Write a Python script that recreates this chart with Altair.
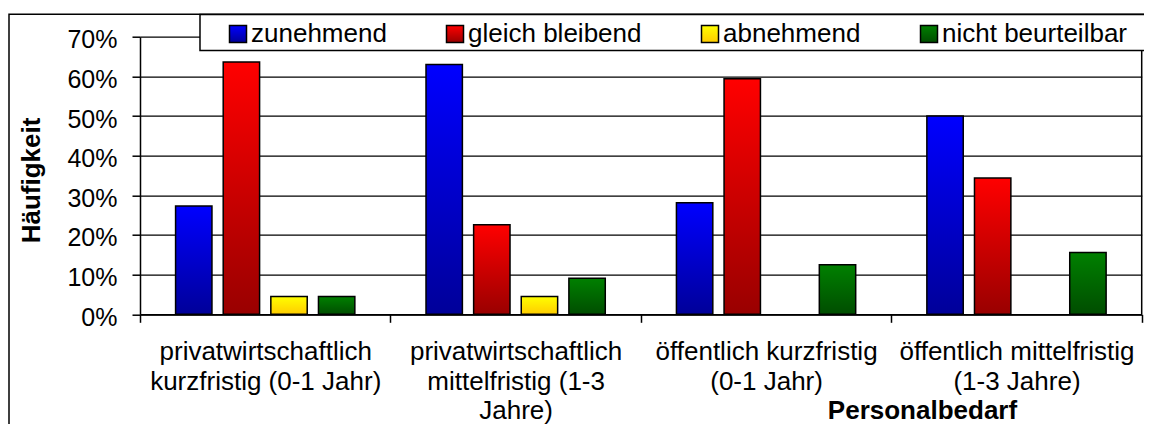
import json
import altair as alt
import pandas as pd

# ---- data ----
category_lines = [
    ["privatwirtschaftlich", "kurzfristig (0-1 Jahr)"],
    ["privatwirtschaftlich", "mittelfristig (1-3", "Jahre)"],
    ["öffentlich kurzfristig", "(0-1 Jahr)"],
    ["öffentlich mittelfristig", "(1-3 Jahre)"],
]
categories = [" ".join(l) for l in category_lines]
series = ["zunehmend", "gleich bleibend", "abnehmend", "nicht beurteilbar"]
zunehmend = [0.273, 0.630, 0.281, 0.500]
gleich_bleibend = [0.636, 0.226, 0.594, 0.344]
abnehmend = [0.045, 0.045, 0.0, 0.0]
nicht_beurteilbar = [0.045, 0.091, 0.125, 0.156]
y_ticks = [0, 0.1, 0.2, 0.3, 0.4, 0.5, 0.6, 0.7]

# gradient colours (top, bottom) per series
grad_top = ["#0000ff", "#ff0000", "#ffff00", "#008000"]
grad_bottom = ["#000099", "#990000", "#ffcc00", "#004d00"]

values = [zunehmend, gleich_bleibend, abnehmend, nicht_beurteilbar]
rows = []
for s, vals in zip(series, values):
    for c, v in zip(categories, vals):
        if v > 0:
            rows.append({"Kategorie": c, "Serie": s, "Wert": v})
df = pd.DataFrame(rows)


def grad(top, bottom):
    return alt.ExprRef(
        expr=(
            "{gradient: 'linear', x1: 0, y1: 0, x2: 0, y2: 1, "
            f"stops: [{{offset: 0, color: '{top}'}}, {{offset: 1, color: '{bottom}'}}]}}"
        )
    )


FONT = "Liberation Sans"
W, H = 1001.7, 277.6

label_map = {c: l for c, l in zip(categories, category_lines)}
label_expr = "(" + json.dumps(label_map, ensure_ascii=False) + ")[datum.value]"

x_axis = alt.Axis(
    title="Personalbedarf",
    labelExpr=label_expr,
    labelAngle=0,
    labelFont=FONT,
    labelFontSize=26,
    labelColor="black",
    labelLineHeight=29.5,
    labelPadding=16.5,
    labelLimit=400,
    labelOverlap=False,
    tickBand="extent",
    tickSize=8,
    tickColor="black",
    tickWidth=1.5,
    domainColor="black",
    domainWidth=1.5,
    grid=False,
    titleFont=FONT,
    titleFontSize=26,
    titleFontWeight="bold",
    titleColor="black",
    titleX=782,
    titleY=104.2,
    titleAlign="center",
    titleBaseline="alphabetic",
)

y_axis = alt.Axis(
    title="Häufigkeit",
    values=y_ticks,
    format=".0%",
    grid=True,
    gridColor="black",
    gridWidth=1.3,
    domainColor="black",
    domainWidth=1.5,
    tickColor="black",
    tickWidth=1.5,
    tickSize=8,
    labelFont=FONT,
    labelFontSize=25,
    labelColor="black",
    labelPadding=15,
    labelOffset=3,
    titleFont=FONT,
    titleFontSize=26,
    titleFontWeight="bold",
    titleColor="black",
    titleX=-109,
    titleY=143.3,
    titleAngle=270,
    titleAlign="center",
    titleBaseline="middle",
)

legend = alt.Legend(
    orient="none",
    legendX=85,
    legendY=-15.7,
    direction="horizontal",
    columns=4,
    title=None,
    symbolType="square",
    symbolSize=289,
    symbolStrokeColor="black",
    symbolStrokeWidth=1.5,
    labelFont=FONT,
    labelFontSize=26,
    labelColor="black",
    labelLimit=500,
    labelOffset=0,
    columnPadding=55,
    padding=0,
)

bars = alt.Chart(df).mark_bar(stroke="black", strokeWidth=1.5).encode(
    x=alt.X("Kategorie:N", sort=categories,
            scale=alt.Scale(paddingInner=0, paddingOuter=0), axis=x_axis),
    xOffset=alt.XOffset("Serie:N", sort=series,
                        scale=alt.Scale(domain=series, paddingInner=0.236, paddingOuter=0.747)),
    y=alt.Y("Wert:Q", scale=alt.Scale(domain=[0, 0.7], nice=False), axis=y_axis),
    fill=alt.Fill("Serie:N",
                  scale=alt.Scale(domain=series,
                                  range=[grad(t, b) for t, b in zip(grad_top, grad_bottom)]),
                  legend=legend),
)

deco = pd.DataFrame({"k": [0]})
frame = alt.Chart(deco).mark_rect(fill="white", fillOpacity=0, stroke="black", strokeWidth=1.5).encode(
    x=alt.value(-131), x2=alt.value(W + 40), y=alt.value(-22.4), y2=alt.value(H + 200)
)
right_border = alt.Chart(deco).mark_rule(color="black", strokeWidth=1.5).encode(
    x=alt.value(W), y=alt.value(13.8), y2=alt.value(H)
)
legend_box = alt.Chart(deco).mark_rect(fill="white", stroke="black", strokeWidth=1.5).encode(
    x=alt.value(60), x2=alt.value(W + 40), y=alt.value(-22.2), y2=alt.value(13.8)
)

chart = alt.layer(frame, right_border, bars, legend_box).properties(
    width=W,
    height=H,
    autosize=alt.AutoSizeParams(type="none"),
    padding={"left": 132, "top": 28.7, "right": 2.3, "bottom": 109.7},
    background="white",
).configure_view(strokeOpacity=0)

chart.save("out.html", embed_options={"renderer": "svg", "actions": False})
